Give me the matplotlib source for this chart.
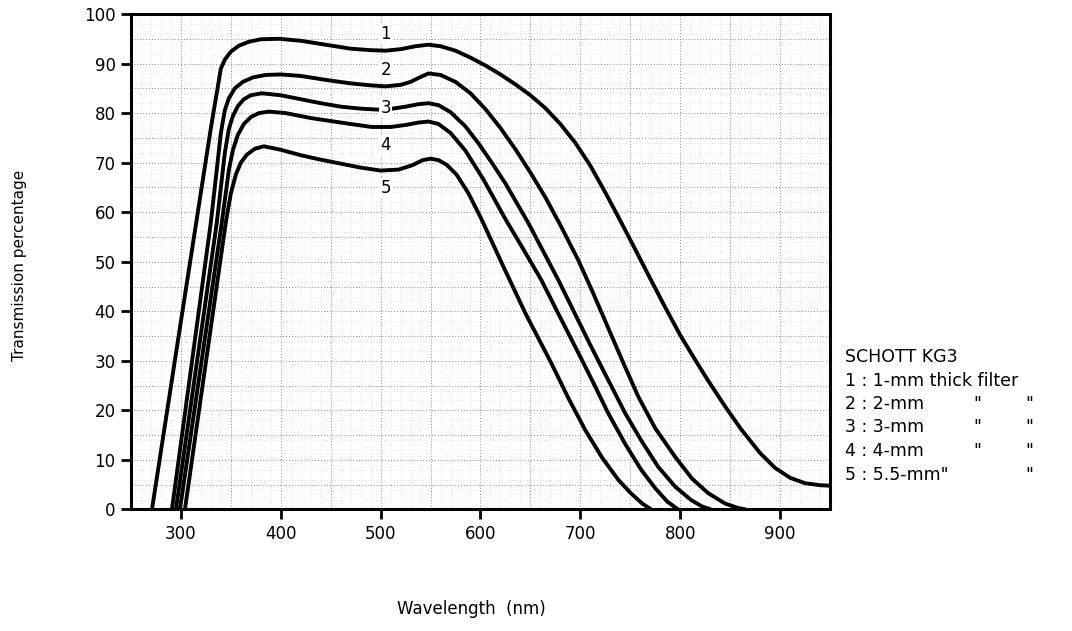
import matplotlib
matplotlib.use("Agg")
import matplotlib.pyplot as plt
from matplotlib.ticker import MultipleLocator

# wavelength (nm) / transmission (%), one pair of lists per filter
wl_1 = [271, 300, 330, 340, 344, 350, 358, 368, 380, 398, 420, 445, 470, 490, 505, 520, 535, 548,
        560, 575, 590, 605, 620, 635, 650, 665, 680, 695, 710, 725, 740, 755, 770, 785, 800, 815,
        828, 845, 861, 880, 895, 910, 925, 940, 950]
tr_1 = [0, 38, 77, 89, 90.8, 92.4, 93.6, 94.4, 94.9, 95.0, 94.6, 93.8, 93.0, 92.7, 92.6, 92.9,
        93.5, 93.8, 93.5, 92.6, 91.2, 89.6, 87.8, 85.8, 83.6, 81.0, 77.8, 74.0, 69.4, 64.0, 58.3,
        52.5, 46.6, 40.8, 35.2, 30.2, 26.0, 20.8, 16.2, 11.4, 8.4, 6.4, 5.3, 4.9, 4.8]

wl_2 = [291, 330, 340, 344, 348, 354, 362, 372, 385, 400, 420, 445, 470, 490, 505, 520, 530,
        540, 548, 560, 575, 590, 605, 620, 635, 650, 665, 680, 698, 713, 728, 743, 758, 775, 795,
        812, 828, 845, 858, 866]
tr_2 = [0, 58, 76, 80.6, 83.0, 85.0, 86.3, 87.2, 87.7, 87.8, 87.5, 86.7, 86.0, 85.6, 85.4, 85.7,
        86.3, 87.3, 88.0, 87.7, 86.3, 84.0, 80.8, 77.0, 72.7, 68.0, 63.0, 57.4, 50.3, 43.6, 36.6,
        29.6, 22.8, 16.4, 10.6, 6.2, 3.3, 1.2, 0.3, 0]

wl_3 = [295, 336, 344, 348, 352, 357, 363, 370, 381, 400, 420, 440, 460, 480, 498, 512, 525,
        538, 548, 558, 570, 585, 598, 612, 625, 648, 678, 711, 745, 762, 778, 795, 811, 822, 831]
tr_3 = [0, 58, 72, 76.8, 79.4, 81.4, 82.8, 83.6, 84.0, 83.6, 82.8, 82.0, 81.3, 80.9, 80.7, 80.9,
        81.3, 81.8, 82.0, 81.6, 80.2, 77.3, 73.9, 69.8, 65.8, 57.8, 46.3, 32.8, 19.4, 13.6, 8.6,
        4.6, 1.9, 0.6, 0]

wl_4 = [299, 341, 348, 352, 357, 363, 370, 378, 388, 405, 430, 450, 470, 491, 510, 525, 538,
        548, 558, 570, 585, 603, 625, 643, 661, 678, 695, 712, 728, 745, 761, 775, 787, 798]
tr_4 = [0, 58, 68.5, 72.5, 75.6, 77.8, 79.2, 80.0, 80.3, 80.0, 79.0, 78.4, 77.8, 77.2, 77.2, 77.6,
        78.1, 78.3, 77.8, 76.0, 72.4, 66.6, 58.6, 52.5, 46.3, 39.5, 32.8, 26.0, 19.4, 13.2, 8.0,
        4.3, 1.6, 0]

wl_5 = [304, 345, 350, 355, 360, 366, 374, 383, 400, 420, 440, 460, 480, 500, 518, 532, 542, 550,
        558, 566, 576, 588, 601, 623, 645, 671, 688, 705, 722, 738, 750, 762, 771]
tr_5 = [0, 58, 63.8, 67.6, 70.0, 71.6, 72.8, 73.3, 72.6, 71.5, 70.6, 69.8, 69.0, 68.4, 68.6,
        69.5, 70.5, 70.8, 70.5, 69.6, 67.6, 63.8, 58.6, 49.0, 39.6, 29.5, 22.5, 16.0, 10.4, 6.0,
        3.4, 1.2, 0]

curve_labels = ["1", "2", "3", "4", "5"]
label_y = [96.0, 88.6, 81.1, 73.5, 64.8]
label_x = 505

legend_title = "SCHOTT KG3"
legend_rows = ["1 : 1-mm thick filter", "2 : 2-mm", "3 : 3-mm", "4 : 4-mm", "5 : 5.5-mm\""]
ditto_first = [False, True, True, True, False]
ditto_second = [False, True, True, True, True]

plt.rcParams["font.family"] = ["DejaVu Sans"]

fig = plt.figure(figsize=(10.72, 6.31), dpi=100)
ax = fig.add_axes([0.1222, 0.1926, 0.652, 0.7852])

for wl, tr in [(wl_1, tr_1), (wl_2, tr_2), (wl_3, tr_3), (wl_4, tr_4), (wl_5, tr_5)]:
    ax.plot(wl, tr, color="black", linewidth=2.8, solid_capstyle="butt",
            solid_joinstyle="round", zorder=3)

for lab, y in zip(curve_labels, label_y):
    ax.text(label_x, y, lab, fontsize=12, ha="center", va="center", zorder=4,
            bbox=dict(facecolor="white", edgecolor="none", pad=1.0))

ax.set_xlim(250, 950)
ax.set_ylim(0, 100)
ax.set_xticks(range(300, 901, 100))
ax.yaxis.set_major_locator(MultipleLocator(10))

# graph-paper style grid
ax.set_xticks(range(250, 951, 10), minor=True)
ax.set_yticks(range(0, 101, 2), minor=True)
ax.grid(which="minor", color="#c8c8c8", linestyle=(0, (1, 3)), linewidth=0.5, zorder=0)
for x in range(250, 951, 50):
    ax.axvline(x, color="#8a8a8a", linestyle=(0, (1, 2)), linewidth=0.7, zorder=1)
for y in range(0, 101, 5):
    ax.axhline(y, color="#8a8a8a", linestyle=(0, (1, 2)), linewidth=0.7, zorder=1)

ax.tick_params(which="major", direction="out", length=7, width=2, labelsize=12, pad=4)
ax.tick_params(which="minor", length=0)
for s in ax.spines.values():
    s.set_linewidth(2.2)

fig.text(0.018, 0.58, "Transmission percentage", rotation=90, fontsize=11,
         ha="center", va="center")
fig.text(0.44, 0.035, "Wavelength  (nm)", fontsize=12, ha="center", va="center")

# legend block to the right of the axes
x0 = 845 / 1072
fig.text(x0, 1 - 357 / 631, legend_title, fontsize=12.5, ha="left", va="center")
for i, row in enumerate(legend_rows):
    yy = 1 - (380.5 + 23.5 * i) / 631
    fig.text(x0, yy, row, fontsize=12.5, ha="left", va="center")
    if ditto_first[i]:
        fig.text(977 / 1072, yy, "\"", fontsize=12.5, ha="center", va="center")
    if ditto_second[i]:
        fig.text(1029 / 1072, yy, "\"", fontsize=12.5, ha="center", va="center")

fig.savefig("out.png", dpi=100)
